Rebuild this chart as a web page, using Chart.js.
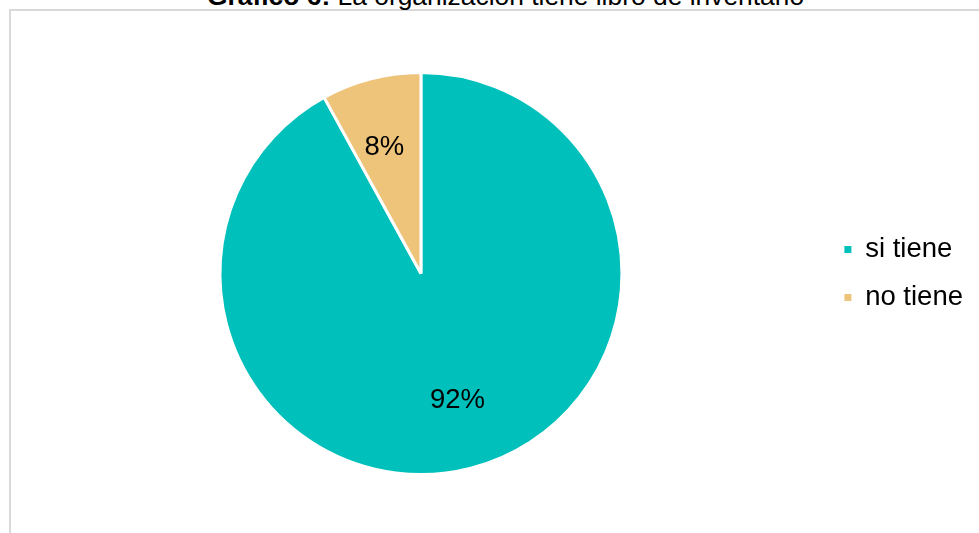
<!DOCTYPE html>
<html>
<head>
<meta charset="utf-8">
<script src="https://cdn.jsdelivr.net/npm/chart.js@4/dist/chart.umd.min.js"></script>
<style>
    body { margin: 0; background: #fff; overflow: hidden; }
    #wrap { position: relative; width: 979px; height: 533px; }
    #frame { position: absolute; left: 9px; top: 9px; width: 1000px; height: 600px; border: 2px solid #d9d9d9; box-sizing: border-box; }
    #titulo { position: absolute; left: 207px; top: -17px; font: 26.4px "Liberation Sans", Arial, sans-serif; line-height: 26.4px; color: #000; white-space: nowrap; }
    canvas { position: absolute; left: 0; top: 0; }
</style>
</head>
<body>
<div id="wrap">
    <div id="frame"></div>
    <div id="titulo"><b>Gráfico 6:</b> La organización tiene libro de inventario</div>
    <canvas id="myChart" width="979" height="533"></canvas>
</div>
<script>
var etiquetas = ['si tiene', 'no tiene'];
var porcentajes = [92, 8];
var colores = ['#00c0bb', '#eec47a'];

var fuente = '"Liberation Sans", Arial, sans-serif';

// writes the % inside each slice
var etiquetasPorcentaje = {
    id: 'etiquetasPorcentaje',
    afterDatasetsDraw: function(chart) {
        var ctx = chart.ctx;
        var meta = chart.getDatasetMeta(0);
        ctx.save();
        ctx.fillStyle = '#000';
        ctx.font = '27.5px ' + fuente;
        ctx.textAlign = 'center';
        ctx.textBaseline = 'middle';
        meta.data.forEach(function(arc, i) {
            var p = arc.getProps(['x', 'y', 'startAngle', 'endAngle', 'outerRadius']);
            var mid = (p.startAngle + p.endAngle) / 2 - 0.03;
            var r = p.outerRadius * 0.655;
            ctx.fillText(porcentajes[i] + '%', p.x + Math.cos(mid) * r, p.y + Math.sin(mid) * r);
        });
        ctx.restore();
    }
};

var ctx = document.getElementById('myChart').getContext('2d');
var myChart = new Chart(ctx, {
    type: 'pie',
    plugins: [etiquetasPorcentaje],
    data: {
        labels: etiquetas,
        datasets: [{
            data: porcentajes,
            backgroundColor: colores,
            borderColor: '#fff',
            borderWidth: 3
        }]
    },
    options: {
        responsive: false,
        animation: false,
        layout: {
            padding: { left: 18, top: 71, bottom: 57, right: 6 }
        },
        plugins: {
            tooltip: { enabled: false },
            legend: {
                position: 'right',
                labels: {
                    boxWidth: 7,
                    boxHeight: 7,
                    padding: 20.5,
                    color: '#000',
                    font: { family: fuente, size: 27.5 },
                    // plain squares, no white outline
                    generateLabels: function(chart) {
                        var items = Chart.overrides.pie.plugins.legend.labels.generateLabels(chart);
                        items.forEach(function(it) { it.lineWidth = 0; });
                        return items;
                    }
                }
            }
        }
    }
});
</script>
</body>
</html>
